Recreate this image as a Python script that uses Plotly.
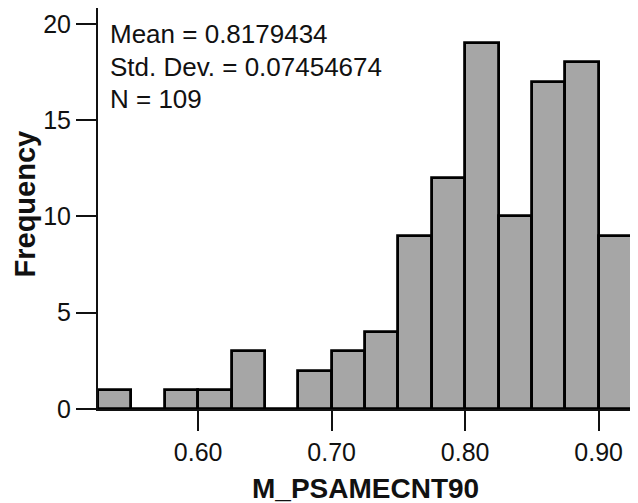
import numpy as np
import plotly.graph_objects as go

# histogram bins (left edge of each bin) and counts
bin_left = [0.525, 0.550, 0.575, 0.600, 0.625, 0.650, 0.675, 0.700,
            0.725, 0.750, 0.775, 0.800, 0.825, 0.850, 0.875, 0.900]
bin_width = 0.025
counts = [1, 0, 1, 1, 3, 0, 2, 3, 4, 9, 12, 19, 10, 17, 18, 9]

stats_lines = ["Mean = 0.8179434", "Std. Dev. = 0.07454674", "N = 109"]

x_ticks = [0.60, 0.70, 0.80, 0.90]
x_tick_labels = ["0.60", "0.70", "0.80", "0.90"]
y_ticks = [0, 5, 10, 15, 20]

font = "Liberation Sans, Arial, sans-serif"

centers = np.array(bin_left) + bin_width / 2

fig = go.Figure()
fig.add_trace(go.Bar(
    x=centers, y=counts, width=bin_width,
    marker=dict(color="#a6a6a6", line=dict(color="black", width=2.8)),
    showlegend=False,
))

# summary stats box text
for i, line in enumerate(stats_lines):
    fig.add_annotation(
        text=line, xref="paper", yref="paper",
        x=0, y=0.935 - i * 0.081, xanchor="left", yanchor="middle",
        xshift=10, showarrow=False,
        font=dict(family=font, size=26, color="#111"),
    )

# axis titles
fig.add_annotation(text="<b>M_PSAMECNT90</b>", xref="paper", yref="paper",
                   x=0.5, y=0, yshift=-79, xanchor="center", yanchor="middle",
                   showarrow=False, font=dict(family=font, size=28, color="#111"))
fig.add_annotation(text="<b>Frequency</b>", xref="paper", yref="paper",
                   x=0, y=0.5, xshift=-74, yshift=4, textangle=-90,
                   xanchor="center", yanchor="middle",
                   showarrow=False, font=dict(family=font, size=29, color="#111"))

# page body adds an 8px margin, so the figure is sized to fit inside it
fig.update_layout(
    width=630, height=495,
    margin=dict(l=90, r=6, t=0, b=94),
    paper_bgcolor="white", plot_bgcolor="white",
    bargap=0,
    font=dict(family=font, color="#111"),
    xaxis=dict(
        range=[0.525, 0.925], tickvals=x_ticks, ticktext=x_tick_labels,
        ticks="outside", ticklen=20, tickwidth=2, tickcolor="#111",
        showline=True, linewidth=2, linecolor="#111", mirror=True,
        showgrid=False, zeroline=False, automargin=False,
        tickfont=dict(family=font, size=25, color="#111"),
    ),
    yaxis=dict(
        range=[0, 20.83], tickvals=y_ticks,
        ticks="outside", ticklen=20, tickwidth=2, tickcolor="#111",
        showline=True, linewidth=2, linecolor="#111", mirror=True,
        showgrid=False, zeroline=False, automargin=False,
        tickfont=dict(family=font, size=25, color="#111"),
    ),
)

fig.write_html("out.html")
